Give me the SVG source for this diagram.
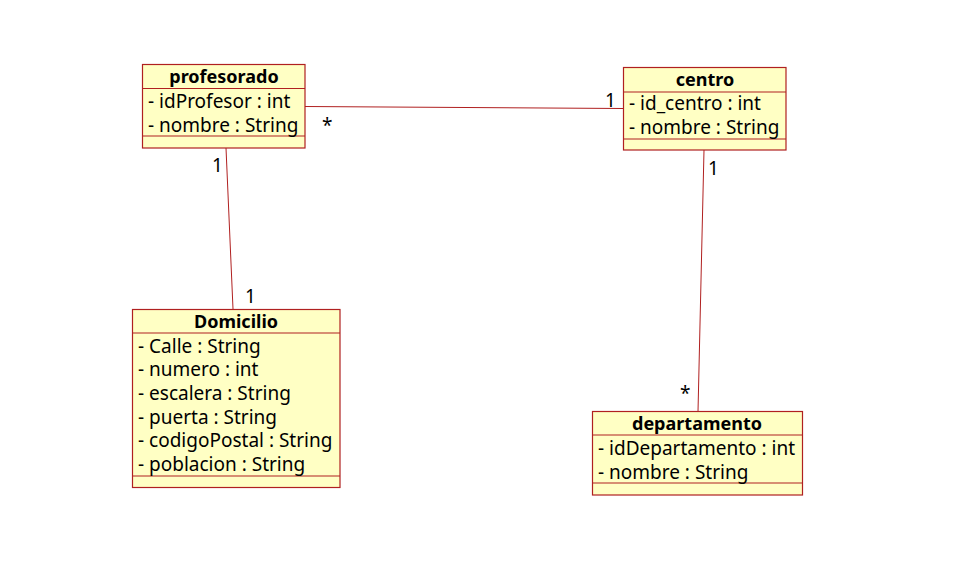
<svg xmlns="http://www.w3.org/2000/svg" width="956" height="572" viewBox="0 0 956 572">
<style>
.box{fill:#FFFFC4;stroke:#B02020;stroke-width:1.2}
.sep{stroke:#B02020;stroke-width:1.2}
.title{font-family:"Noto Sans","Open Sans",sans-serif;font-size:18px;font-weight:bold;fill:#000;text-anchor:middle}
.attr{font-family:"Noto Sans","Open Sans",sans-serif;font-size:19px;fill:#000}
.mult{font-family:"Noto Sans","Open Sans",sans-serif;font-size:19px;fill:#000}
.conn{stroke:#B02020;stroke-width:1;fill:none}
</style>
<rect width="956" height="572" fill="#fff"/>
<g id="connectors">
<line class="conn" x1="305" y1="106.5" x2="623" y2="108.5"/>
<line class="conn" x1="226" y1="148" x2="233" y2="309"/>
<line class="conn" x1="704" y1="150" x2="698" y2="411.5"/>
<text class="mult" x="322" y="132">*</text>
<text class="mult" x="605" y="107">1</text>
<text class="mult" x="212" y="172">1</text>
<text class="mult" x="245" y="303">1</text>
<text class="mult" x="708" y="175">1</text>
<text class="mult" x="680" y="400">*</text>
</g>
<g id="profesorado">
<rect class="box" x="142.5" y="64.5" width="162.5" height="83.5"/>
<line class="sep" x1="142.5" y1="88.5" x2="305" y2="88.5"/>
<line class="sep" x1="142.5" y1="136" x2="305" y2="136"/>
<text class="title" x="224" y="83">profesorado</text>
<text class="attr" x="148" y="108">- idProfesor : int</text>
<text class="attr" x="148" y="132">- nombre : String</text>
</g>
<g id="centro">
<rect class="box" x="623.5" y="67.5" width="162.5" height="82.5"/>
<line class="sep" x1="623.5" y1="92" x2="786" y2="92"/>
<line class="sep" x1="623.5" y1="139" x2="786" y2="139"/>
<text class="title" x="705" y="86">centro</text>
<text class="attr" x="629" y="110">- id_centro : int</text>
<text class="attr" x="629" y="134">- nombre : String</text>
</g>
<g id="Domicilio">
<rect class="box" x="132.5" y="309.5" width="207.5" height="178"/>
<line class="sep" x1="132.5" y1="333" x2="340" y2="333"/>
<line class="sep" x1="132.5" y1="476" x2="340" y2="476"/>
<text class="title" x="236" y="328">Domicilio</text>
<text class="attr" x="138" y="353">- Calle : String</text>
<text class="attr" x="138" y="376">- numero : int</text>
<text class="attr" x="138" y="400">- escalera : String</text>
<text class="attr" x="138" y="424">- puerta : String</text>
<text class="attr" x="138" y="447">- codigoPostal : String</text>
<text class="attr" x="138" y="471">- poblacion : String</text>
</g>
<g id="departamento">
<rect class="box" x="592.5" y="411.5" width="210" height="83.5"/>
<line class="sep" x1="592.5" y1="435" x2="802.5" y2="435"/>
<line class="sep" x1="592.5" y1="483" x2="802.5" y2="483"/>
<text class="title" x="697" y="430">departamento</text>
<text class="attr" x="598" y="455">- idDepartamento : int</text>
<text class="attr" x="598" y="479">- nombre : String</text>
</g>
</svg>
